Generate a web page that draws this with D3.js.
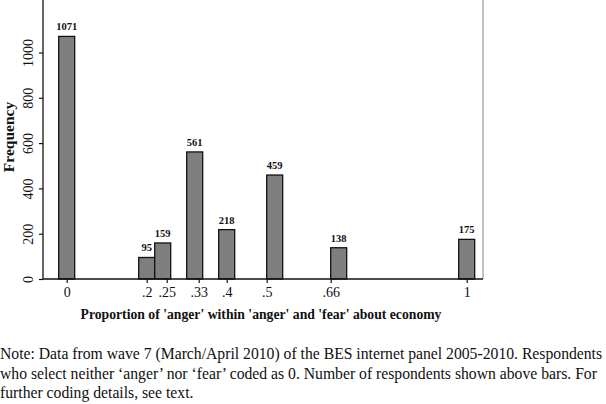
<!DOCTYPE html>
<html><head><meta charset="utf-8">
<script src="https://cdn.jsdelivr.net/npm/d3@7"></script>
<style>body{margin:0;background:#fff}svg{display:block}</style>
</head><body>
<svg id="c" width="606" height="404"></svg>
<script>
const values = [0, 0.2, 0.25, 0.33, 0.4, 0.5, 0.66, 1];
const counts = [1071, 95, 159, 561, 218, 459, 138, 175];
const xTicks = [0, 0.2, 0.25, 0.33, 0.4, 0.5, 0.66, 1];
const xTickLabels = ["0", ".2", ".25", ".33", ".4", ".5", ".66", "1"];
const yTicks = [0, 200, 400, 600, 800, 1000];
const binStart = -0.02, binWidth = 0.04;
const xTitle = "Proportion of 'anger' within 'anger' and 'fear' about economy";
const yTitle = "Frequency";
const noteLines = [
  "Note: Data from wave 7 (March/April 2010) of the BES internet panel 2005-2010. Respondents",
  "who select neither \u2018anger\u2019 nor \u2018fear\u2019 coded as 0. Number of respondents shown above bars. For",
  "further coding details, see text."
];

const svg = d3.select("#c");
const left = 43, right = 483, bottom = 279;
const x = d3.scaleLinear().domain([0, 1]).range([66.7, 466.7]);
const y = d3.scaleLinear().domain([0, 1000]).range([bottom, 52.5]);

svg.append("line").attr("x1", right).attr("x2", right).attr("y1", 0).attr("y2", bottom)
  .attr("stroke", "#999").attr("stroke-width", 1.2);

const bins = values.map((v, i) => {
  const k = Math.floor((v - binStart) / binWidth + 1e-9);
  return {x0: binStart + k * binWidth, x1: binStart + (k + 1) * binWidth, n: counts[i]};
});

svg.append("g").selectAll("rect").data(bins).join("rect")
  .attr("x", d => x(d.x0)).attr("width", d => x(d.x1) - x(d.x0))
  .attr("y", d => y(d.n)).attr("height", d => y(0) - y(d.n))
  .attr("fill", "#7f7f7f").attr("stroke", "#111").attr("stroke-width", 1.3);

svg.append("g").selectAll("text").data(bins).join("text")
  .attr("x", d => x((d.x0 + d.x1) / 2)).attr("y", d => y(d.n) - 6)
  .attr("text-anchor", "middle").attr("font-family", "Liberation Serif")
  .attr("font-weight", "bold").attr("font-size", 10.5).attr("fill", "#111")
  .text(d => d.n);

const xAxis = d3.axisBottom(x).tickValues(xTicks).tickFormat((d, i) => xTickLabels[i])
  .tickSize(4).tickSizeOuter(0);
const gx = svg.append("g").attr("transform", `translate(0,${bottom})`).call(xAxis);
gx.select(".domain").remove();
gx.selectAll(".tick line").attr("stroke", "#111").attr("stroke-width", 1.2);
gx.selectAll(".tick text").attr("font-family", "Liberation Serif").attr("font-size", 14)
  .attr("fill", "#111").attr("dy", "0.75em");
svg.append("line").attr("x1", left).attr("x2", right).attr("y1", bottom).attr("y2", bottom)
  .attr("stroke", "#111").attr("stroke-width", 1.5);

const yAxis = d3.axisLeft(y).tickValues(yTicks).tickFormat(d3.format("d")).tickSize(4).tickSizeOuter(0);
const gy = svg.append("g").attr("transform", `translate(${left},0)`).call(yAxis);
gy.select(".domain").remove();
gy.selectAll(".tick line").attr("stroke", "#111").attr("stroke-width", 1.2);
gy.selectAll(".tick text").attr("font-family", "Liberation Serif").attr("font-size", 14)
  .attr("fill", "#111").attr("x", 0).attr("dy", 0)
  .attr("text-anchor", "middle")
  .attr("transform", "translate(-10,0) rotate(-90)");
svg.append("line").attr("x1", left).attr("x2", left).attr("y1", 0).attr("y2", bottom)
  .attr("stroke", "#111").attr("stroke-width", 1.3);

svg.append("text").attr("x", 261).attr("y", 319).attr("text-anchor", "middle")
  .attr("font-family", "Liberation Serif").attr("font-weight", "bold").attr("font-size", 13.7)
  .attr("fill", "#111").text(xTitle);
svg.append("text").attr("transform", "translate(14,137) rotate(-90)").attr("text-anchor", "middle")
  .attr("font-family", "Liberation Serif").attr("font-weight", "bold").attr("font-size", 15.5)
  .attr("fill", "#111").text(yTitle);

svg.append("g").selectAll("text").data(noteLines).join("text")
  .attr("x", 0).attr("y", (d, i) => 359 + i * 19.5)
  .attr("font-family", "Liberation Serif").attr("font-size", 15.7).attr("fill", "#111")
  .text(d => d);
</script>
</body></html>
